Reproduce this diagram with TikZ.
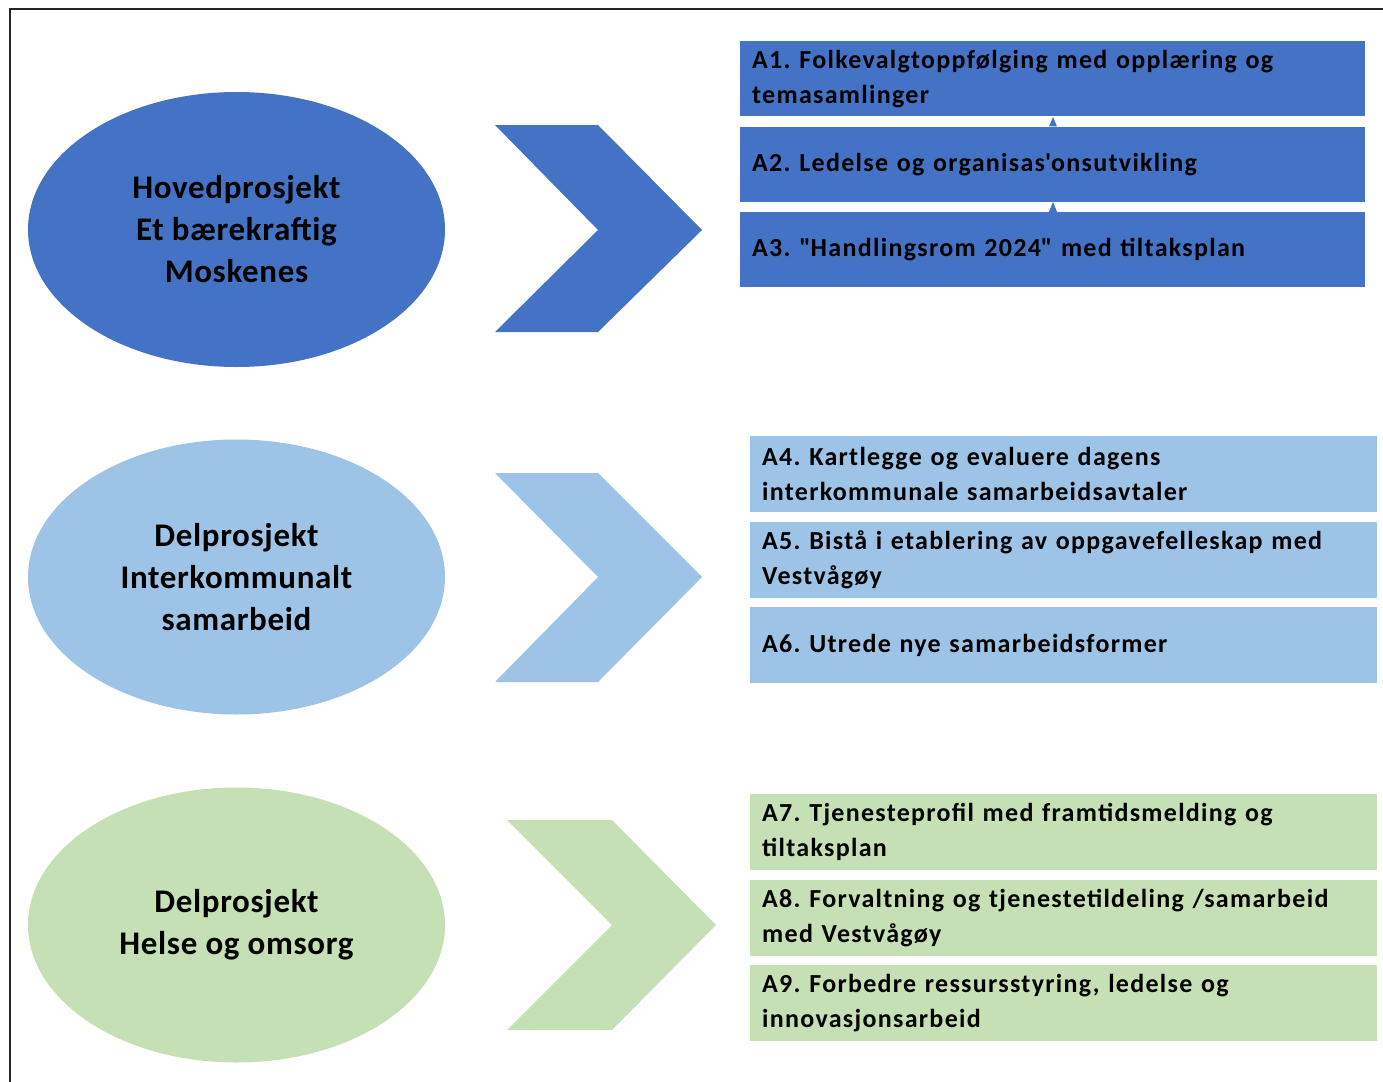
\documentclass[tikz,border=0pt]{standalone}
\usepackage{fontspec}
\setmainfont{Carlito}
\usetikzlibrary{positioning, shapes.geometric}
\definecolor{mainfill}{HTML}{4472C4}
\definecolor{interfill}{HTML}{9DC3E6}
\definecolor{helsefill}{HTML}{C5E0B4}
\definecolor{framestroke}{HTML}{262626}
\frenchspacing
% straight glyphs, not touched by the TeX ligature mapping
\newcommand\plainquote{\XeTeXglyph\XeTeXcharglyph"22\relax}
\newcommand\plaintick{\XeTeXglyph\XeTeXcharglyph"27\relax}

\begin{document}
\begin{tikzpicture}[
  x=1pt, y=-1pt,
  node distance=10pt,
  project/.style={ellipse, minimum width=417pt, minimum height=275pt,
                  inner sep=0pt, align=center, text=black,
                  font=\fontsize{33}{42}\selectfont\bfseries\addfontfeature{LetterSpace=2}},
  task/.style={rectangle, minimum width=625pt, minimum height=75pt,
               text width=601pt, inner xsep=12pt, inner ysep=0pt,
               align=left, text=black,
               font=\fontsize{26}{35}\selectfont\bfseries\addfontfeature{LetterSpace=5}},
  widetask/.style={task, minimum width=627pt, minimum height=76pt,
                   text width=603pt}
]
\useasboundingbox (0,0) rectangle (1383,1081);

% Frame (only the top and left edges lie inside the picture).
\draw[framestroke, line width=2pt] (10,1090) -- (10,9) -- (1390,9);

% Projects on the left.
\node[project, fill=mainfill]  (hoved) at (236.5,229.5)
  {Hovedprosjekt\\Et bærekraftig\\Moskenes};
\node[project, fill=interfill] (inter) at (236.5,577)
  {Delprosjekt\\Interkommunalt\\samarbeid};
\node[project, fill=helsefill] (helse) at (236.5,925)
  {Delprosjekt\\Helse og omsorg};

% Chevrons between projects and tasks.
\fill[mainfill]  (495,125) -- (598,125) -- (702,230) -- (598,332)
  -- (495,332) -- (598,230) -- cycle;
\fill[interfill] (495,473) -- (598,473) -- (702,577) -- (598,682)
  -- (495,682) -- (598,577) -- cycle;
\fill[helsefill] (507,820) -- (612,820) -- (716,925) -- (612,1030)
  -- (507,1030) -- (612,925) -- cycle;

% Tasks of the main project.
\node[task, fill=mainfill, anchor=north west] (a1) at (740,41)
  {A1. Folkevalgtoppfølging med opplæring og\\temasamlinger};
\node[task, fill=mainfill, below=of a1] (a2)
  {A2. Ledelse og organisas\plaintick onsutvikling};
\node[task, fill=mainfill, below=of a2] (a3)
  {A3. \plainquote Handlingsrom 2024\plainquote{} med tiltaksplan};

% small tips left between the blue boxes
\fill[mainfill] ([xshift=-4pt]a2.north -| 1053,0) -- (1053,117)
  -- ([xshift=4pt]a2.north -| 1053,0) -- cycle;
\fill[mainfill] ([xshift=-4pt]a3.north -| 1053,0) -- (1053,202)
  -- ([xshift=4pt]a3.north -| 1053,0) -- cycle;

% Tasks of Interkommunalt samarbeid.
\node[widetask, fill=interfill, anchor=north west] (a4) at (750,436)
  {A4. Kartlegge og evaluere dagens\\interkommunale samarbeidsavtaler};
\node[widetask, fill=interfill, below=9pt of a4] (a5)
  {A5. Bistå i etablering av oppgavefelleskap med\\Vestvågøy};
\node[widetask, fill=interfill, below=9pt of a5] (a6)
  {A6. Utrede nye samarbeidsformer};

% Tasks of Helse og omsorg.
\node[widetask, fill=helsefill, anchor=north west] (a7) at (750,794)
  {A7. Tjenesteprofil med framtidsmelding og\\tiltaksplan};
\node[widetask, fill=helsefill, below=9pt of a7] (a8)
  {A8. Forvaltning og tjenestetildeling /samarbeid\\med Vestvågøy};
\node[widetask, fill=helsefill, below=9pt of a8] (a9)
  {A9. Forbedre ressursstyring, ledelse og\\innovasjonsarbeid};

\end{tikzpicture}
\end{document}
